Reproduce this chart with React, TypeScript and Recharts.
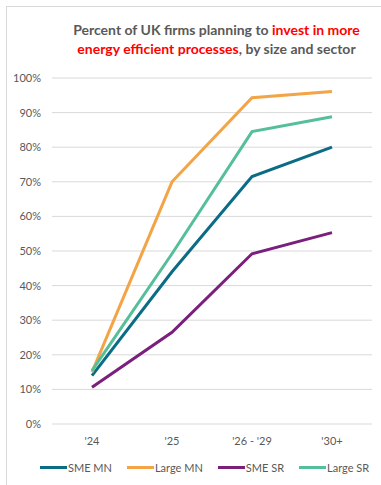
import React from 'react';
import { LineChart, Line, XAxis, YAxis, CartesianGrid } from 'recharts';

const periods = ["'24", "'25", "'26 - '29", "'30+"];
const smeMn = [14, 44, 71.5, 80];
const largeMn = [15, 70, 94.3, 96.1];
const smeSr = [10.6, 26.5, 49.2, 55.3];
const largeSr = [15.4, 49.2, 84.5, 88.8];
const yTicks = [0, 10, 20, 30, 40, 50, 60, 70, 80, 90, 100];

const series = [
  { key: 'smeMn', name: 'SME MN', color: '#0B6C86' },
  { key: 'largeMn', name: 'Large MN', color: '#F3A446' },
  { key: 'smeSr', name: 'SME SR', color: '#7B1F7D' },
  { key: 'largeSr', name: 'Large SR', color: '#55BF9A' },
];

const data = periods.map((period, i) => ({
  period,
  smeMn: smeMn[i],
  largeMn: largeMn[i],
  smeSr: smeSr[i],
  largeSr: largeSr[i],
}));

const FONT = 'Lato, "Open Sans", sans-serif';
const TEXT = '#595959';
const RED = '#FF0000';

export default function App() {
  return (
    <div
      style={{
        position: 'absolute',
        left: 0,
        top: 0,
        width: 381,
        height: 485,
        overflow: 'hidden',
        background: '#fff',
        fontFamily: FONT,
      }}
    >
      {/* outer frame, only the top and left edges fall inside */}
      <div
        style={{
          position: 'absolute',
          left: 6,
          top: 6,
          width: 400,
          height: 500,
          borderLeft: '1px solid #d9d9d9',
          borderTop: '1px solid #d9d9d9',
        }}
      />
      <div
        style={{
          position: 'absolute',
          left: 52,
          top: 20,
          width: 329,
          textAlign: 'center',
          fontSize: 14,
          lineHeight: '19px',
          fontWeight: 700,
          color: TEXT,
          whiteSpace: 'nowrap',
        }}
      >
        <div>
          Percent of UK firms planning to <span style={{ color: RED }}>invest in more</span>
        </div>
        <div>
          <span style={{ color: RED }}>energy efficient processes</span>, by size and sector
        </div>
      </div>
      <div style={{ position: 'absolute', left: 0, top: 0 }}>
        <LineChart
          width={381}
          height={485}
          data={data}
          margin={{ top: 78, right: 9, bottom: 31, left: 0 }}
        >
          <CartesianGrid vertical={false} stroke="#d9d9d9" strokeWidth={1} />
          <XAxis
            dataKey="period"
            axisLine={false}
            tickLine={false}
            tickMargin={7}
            height={30}
            padding={{ left: 40, right: 40 }}
            tick={{ fill: TEXT, fontSize: 11, fontFamily: FONT }}
          />
          <YAxis
            domain={[0, 100]}
            ticks={yTicks}
            interval={0}
            axisLine={false}
            tickLine={false}
            tickMargin={5}
            width={52}
            tickFormatter={(v: number) => `${v}%`}
            tick={{ fill: TEXT, fontSize: 11, fontFamily: FONT }}
          />
          {series.map((s) => (
            <Line
              key={s.key}
              dataKey={s.key}
              name={s.name}
              stroke={s.color}
              strokeWidth={3}
              dot={false}
              type="linear"
              isAnimationActive={false}
            />
          ))}
        </LineChart>
      </div>
      <div
        style={{
          position: 'absolute',
          left: 40,
          top: 461,
          display: 'flex',
          alignItems: 'center',
          fontSize: 11,
          color: TEXT,
          whiteSpace: 'nowrap',
        }}
      >
        {series.map((s) => (
          <div key={s.key} style={{ display: 'flex', alignItems: 'center', marginRight: 15 }}>
            <span style={{ display: 'inline-block', width: 27, height: 3, background: s.color, marginRight: 1 }} />
            <span>{s.name}</span>
          </div>
        ))}
      </div>
    </div>
  );
}
